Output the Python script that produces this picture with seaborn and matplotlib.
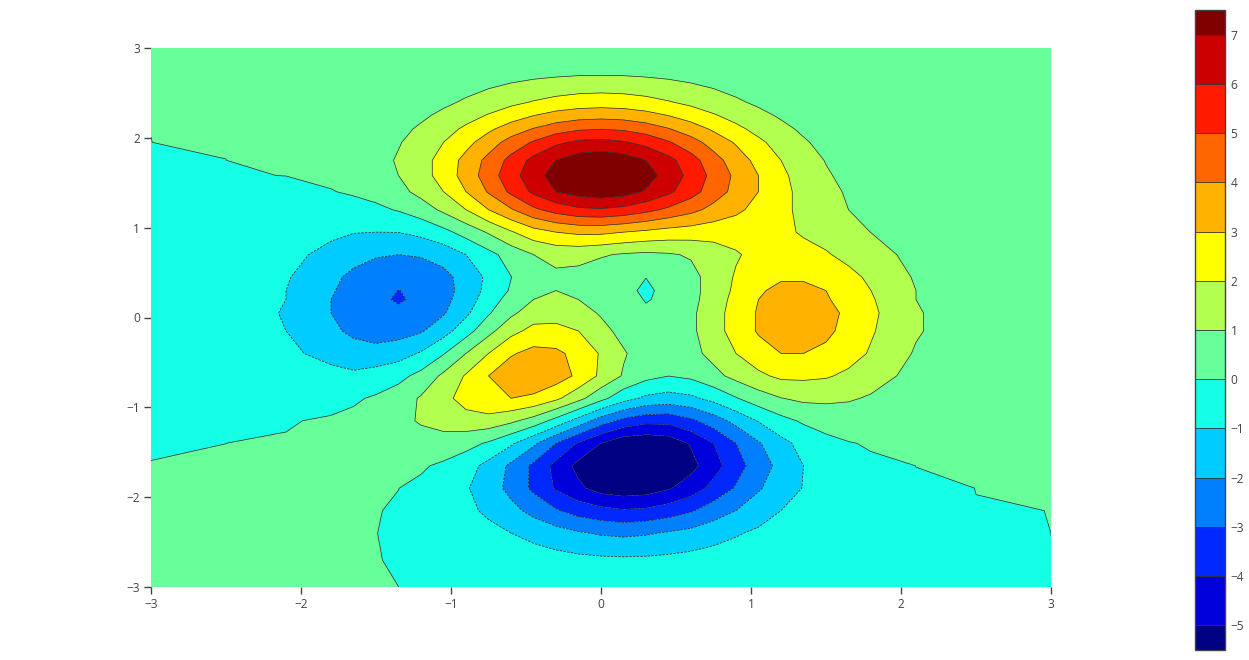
import numpy as np
import matplotlib
matplotlib.use('Agg')
import matplotlib as mpl
import matplotlib.pyplot as plt
from matplotlib.colors import ListedColormap, BoundaryNorm
import seaborn as sns

# ---- data: surface values read on a rectilinear grid ----
x_vals = [-3.0, -2.5, -2.1, -1.8, -1.65, -1.5, -1.35, -1.2, -1.05, -0.9, -0.75, -0.6,
          -0.45, -0.3, -0.15, 0.0, 0.15, 0.3, 0.45, 0.6, 0.75, 0.9, 1.05, 1.2, 1.35,
          1.5, 1.65, 1.8, 2.1, 2.5, 3.0]
y_vals = [-3.0, -2.7, -2.4, -2.15, -1.9, -1.65, -1.4, -1.15, -0.9, -0.65, -0.4, -0.15,
          0.05, 0.2, 0.3, 0.45, 0.7, 0.95, 1.2, 1.4, 1.58, 1.75, 1.95, 2.1, 2.25, 2.4,
          2.7, 3.0]

z_m300 = [7e-5, 7e-4, 3e-3, 5e-3, 5e-3, 4e-3, 1e-4, -9e-3, -.02, -.05, -.08, -.11, -.15, -.19, -.22, -.24,
          -.25, -.25, -.23, -.2, -.17, -.13, -.1, -.07, -.05, -.03, -.02, -.01, -3e-3, -3e-4, -6e-6]
z_m270 = [2e-4, 2e-3, 7e-3, .01, .01, 4e-3, -.01, -.04, -.09, -.17, -.27, -.39, -.51, -.64, -.74, -.81,
          -.84, -.82, -.76, -.66, -.55, -.43, -.32, -.23, -.15, -.1, -.06, -.03, -9e-3, -1e-3, -2e-5]
z_m240 = [4e-4, 4e-3, .02, .02, .02, 3e-3, -.04, -.12, -.25, -.45, -.7, -1, -1.3, -1.6, -1.9, -2.1,
          -2.2, -2.1, -1.9, -1.7, -1.4, -1.1, -.82, -.58, -.39, -.24, -.14, -.08, -.02, -2e-3, 2e-6]
z_m215 = [6e-4, 7e-3, .03, .05, .04, .02, -.05, -.19, -.42, -.75, -1.2, -1.7, -2.3, -2.9, -3.4, -3.7,
          -3.9, -3.8, -3.5, -3.1, -2.5, -2, -1.5, -1, -.68, -.42, -.25, -.14, -.03, -2e-3, 2e-4]
z_m190 = [8e-4, 1e-2, .04, .08, .1, .08, 5e-3, -.16, -.46, -.91, -1.5, -2.3, -3.2, -4.1, -4.8, -5.4,
          -5.6, -5.5, -5.1, -4.5, -3.7, -2.9, -2.1, -1.5, -.96, -.58, -.33, -.17, -.03, 8e-4, 7e-4]
z_m165 = [3e-4, 9e-3, .05, .14, .19, .22, .2, .1, -.15, -.6, -1.3, -2.2, -3.2, -4.3, -5.3, -6.1,
          -6.5, -6.5, -6.1, -5.3, -4.4, -3.4, -2.5, -1.7, -1, -.58, -.29, -.12, 2e-3, .01, 2e-3]
z_m140 = [-1e-3, -2e-4, .04, .16, .27, .39, .52, .59, .56, .34, -.12, -.85, -1.8, -3, -4.1, -5,
          -5.7, -5.8, -5.6, -4.9, -4, -3, -2.1, -1.3, -.68, -.27, -.04, .07, .1, .04, 5e-3]
z_m115 = [-5e-3, -.03, -.04, .07, .21, .43, .73, 1.1, 1.4, 1.6, 1.6, 1.2, .59, -.34, -1.4, -2.5,
          -3.3, -3.7, -3.7, -3.2, -2.5, -1.7, -.94, -.3, .13, .38, .46, .43, .26, .08, 9e-3]
z_m090 = [-.01, -.08, -.21, -.22, -.12, .12, .52, 1.1, 1.7, 2.4, 2.9, 3, 2.8, 2.2, 1.3, .29,
          -.63, -1.2, -1.4, -1.2, -.71, -.07, .53, .97, 1.2, 1.2, 1.1, .9, .5, .1, .02]
z_m065 = [-.02, -.2, -.5, -.7, -.8, -.6, -.3, .3, 1.2, 2.1, 3, 3.6, 3.8, 3.5, 2.8, 1.8,
          .9, .3, .01, .2, .7, 1.3, 1.8, 2.2, 2.2, 2.1, 1.8, 1.4, .7, .2, .02]
z_m040 = [-.03, -.2, -.8, -1.3, -1.6, -1.6, -1.4, -.9, -.07, 1, 2, 2.9, 3.3, 3.2, 2.7, 1.9,
          1.1, .5, .4, .7, 1.3, 2, 2.6, 3, 3, 2.8, 2.4, 1.9, .9, .3, .03]
z_m015 = [-.03, -.3, -1, -1.8, -2.2, -2.5, -2.4, -2.1, -1.4, -.4, .7, 1.7, 2.3, 2.3, 2, 1.3,
          .7, .3, .3, .8, 1.6, 2.4, 3.1, 3.5, 3.5, 3.2, 2.7, 2.1, 1.1, .3, .03]
z_p005 = [-.04, -.3, -1.1, -2, -2.5, -2.8, -2.9, -2.7, -2.1, -1.2, -.1, .8, 1.5, 1.6, 1.4, .9,
          .4, .08, .2, .8, 1.6, 2.4, 3.1, 3.5, 3.5, 3.3, 2.8, 2.2, 1.1, .3, .03]
z_p020 = [-.04, -.3, -1, -2, -2.5, -2.9, -3.05, -2.9, -2.3, -1.5, -.5, .4, 1, 1.2, 1, .6,
          .2, -.03, .1, .7, 1.5, 2.3, 3, 3.4, 3.4, 3.1, 2.6, 2.1, 1, .3, .03]
z_p030 = [-.03, -.3, -1, -1.9, -2.4, -2.8, -3.01, -2.9, -2.4, -1.6, -.7, .1, .7, 1, .8, .5,
          .09, -.06, .1, .7, 1.4, 2.2, 2.9, 3.2, 3.2, 3, 2.5, 2, 1, .3, .03]
z_p045 = [-.03, -.3, -.9, -1.8, -2.2, -2.6, -2.8, -2.7, -2.3, -1.6, -.8, -.02, .5, .8, .7, .4,
          .1, 5e-3, .2, .7, 1.4, 2.1, 2.6, 2.9, 2.9, 2.7, 2.3, 1.8, .9, .2, .03]
z_p070 = [-.02, -.2, -.7, -1.3, -1.7, -1.9, -2, -1.9, -1.6, -1, -.3, .4, 1, 1.3, 1.3, 1.1,
          .9, .8, .9, 1.1, 1.5, 1.9, 2.3, 2.4, 2.3, 2.1, 1.7, 1.4, .7, .2, .02]
z_p095 = [-.02, -.13, -.43, -.8, -.96, -1, -.99, -.74, -.28, .38, 1.1, 1.9, 2.6, 3, 3.2, 3.2,
          3, 2.8, 2.6, 2.5, 2.4, 2.4, 2.3, 2.2, 1.9, 1.6, 1.3, .99, .47, .12, .01]
z_p120 = [-8e-3, -.07, -.2, -.31, -.3, -.19, .07, .51, 1.2, 2, 3, 3.9, 4.8, 5.4, 5.8, 5.9,
          5.7, 5.3, 4.8, 4.3, 3.7, 3.2, 2.7, 2.2, 1.8, 1.4, 1, .74, .33, .08, 8e-3]
z_p140 = [-4e-3, -.03, -.07, -.03, .09, .31, .69, 1.3, 2, 3, 4.1, 5.2, 6.2, 7, 7.4, 7.6,
          7.4, 6.9, 6.2, 5.4, 4.5, 3.7, 3, 2.3, 1.7, 1.3, .88, .6, .24, .06, 6e-3]
z_p158 = [-2e-3, -.01, 2e-3, .13, .29, .57, 1, 1.6, 2.4, 3.4, 4.5, 5.6, 6.6, 7.4, 7.9, 8.1,
          7.9, 7.4, 6.6, 5.7, 4.7, 3.8, 3, 2.2, 1.6, 1.1, .76, .49, .19, .04, 4e-3]
z_p175 = [-9e-4, -4e-4, .04, .19, .37, .65, 1.1, 1.6, 2.4, 3.3, 4.3, 5.3, 6.3, 7, 7.5, 7.7,
          7.5, 7, 6.3, 5.4, 4.4, 3.5, 2.7, 2, 1.4, .96, .63, .4, .14, .03, 2e-3]
z_p195 = [-9e-5, 5e-3, .05, .19, .35, .59, .93, 1.4, 2, 2.7, 3.5, 4.4, 5.1, 5.8, 6.2, 6.3,
          6.1, 5.7, 5.1, 4.4, 3.6, 2.9, 2.2, 1.6, 1.1, .74, .47, .29, .1, .02, 2e-3]
z_p210 = [.00014, .0056, .046, .17, .29, .48, .76, 1.13, 1.61, 2.18, 2.81, 3.45, 4.05, 4.54, 4.86, 4.96,
          4.85, 4.53, 4.05, 3.47, 2.85, 2.24, 1.69, 1.22, .85, .56, .36, .22, .073, .013, .001]
z_p225 = [.00021, .005, .037, .13, .22, .36, .57, .84, 1.19, 1.61, 2.07, 2.54, 2.98, 3.34, 3.57, 3.65,
          3.57, 3.33, 2.98, 2.55, 2.09, 1.64, 1.23, .89, .61, .41, .26, .16, .051, .0089, .00066]
z_p240 = [.00019, .0038, .027, .091, .16, .25, .39, .58, .82, 1.11, 1.42, 1.75, 2.05, 2.29, 2.45, 2.51,
          2.45, 2.29, 2.05, 1.75, 1.43, 1.12, .84, .61, .42, .27, .17, .11, .034, .0058, .00041]
z_p270 = [9.4e-5, .0017, .011, .037, .062, .1, .16, .23, .32, .43, .56, .68, .8, .89, .96, .98,
          .96, .89, .8, .68, .56, .44, .33, .23, .16, .11, .066, .04, .013, .0021, .00014]
z_p300 = [3.2e-5, .00054, .0035, .011, .019, .031, .048, .071, .099, .13, .17, .21, .24, .27, .29, .3,
          .29, .27, .24, .21, .17, .13, .1, .071, .049, .032, .02, .012, .0038, .00061, 4.1e-5]

contour_levels = [-5, -4, -3, -2, -1, 0, 1, 2, 3, 4, 5, 6, 7]
colorbar_ticks = [-5, -4, -3, -2, -1, 0, 1, 2, 3, 4, 5, 6, 7]
band_colors = ['#000083', '#0000DC', '#0028FF', '#0080FF', '#00CCFF', '#14FFE6',
               '#66FF99', '#B3FF50', '#FFFF00', '#FFB300', '#FF6600', '#FF1A00',
               '#CC0000', '#800000']

# ---- build grid ----
z_grid = np.array([z_m300, z_m270, z_m240, z_m215, z_m190, z_m165, z_m140, z_m115,
                   z_m090, z_m065, z_m040, z_m015, z_p005, z_p020, z_p030, z_p045,
                   z_p070, z_p095, z_p120, z_p140, z_p158, z_p175, z_p195, z_p210,
                   z_p225, z_p240, z_p270, z_p300])
X, Y = np.meshgrid(x_vals, y_vals)

sns.set_theme(style='white')
plt.rcParams['font.family'] = ['Open Sans', 'DejaVu Sans']
palette = sns.color_palette(band_colors)

fill_levels = [-100] + contour_levels + [100]

fig = plt.figure(figsize=(12.49, 6.6), dpi=100)
ax = fig.add_axes([151/1249, 73/660, 900/1249, 539/660])
ax.contourf(X, Y, z_grid, levels=fill_levels, colors=palette, antialiased=True)
ax.contour(X, Y, z_grid, levels=contour_levels, colors='#222222', linewidths=0.5)
ax.set_xlim(-3, 3)
ax.set_ylim(-3, 3)
ax.set_xticks(range(-3, 4))
ax.set_yticks(range(-3, 4))
for s in ax.spines.values():
    s.set_visible(False)
ax.tick_params(direction='out', length=5, width=1, color='#444444', labelcolor='#444444',
               labelsize=8.6, pad=3, bottom=True, left=True)

# ---- colour bar ----
cax = fig.add_axes([1195/1249, 10/660, 30/1249, 640/660])
bounds = [contour_levels[0] - 0.5] + contour_levels + [contour_levels[-1] + 0.5]
cmap = ListedColormap(palette)
norm = BoundaryNorm(bounds, len(band_colors))
cb = mpl.colorbar.ColorbarBase(cax, cmap=cmap, norm=norm, boundaries=bounds,
                               spacing='proportional', ticks=colorbar_ticks)
cb.outline.set_edgecolor('#444444')
cb.outline.set_linewidth(1)
cax.minorticks_off()
for l in contour_levels:
    cax.axhline(l, color='#333333', lw=0.6)
cax.tick_params(which='both', length=0, labelsize=8.6, labelcolor='#444444', pad=4)

fig.savefig('out.png', dpi=100)
